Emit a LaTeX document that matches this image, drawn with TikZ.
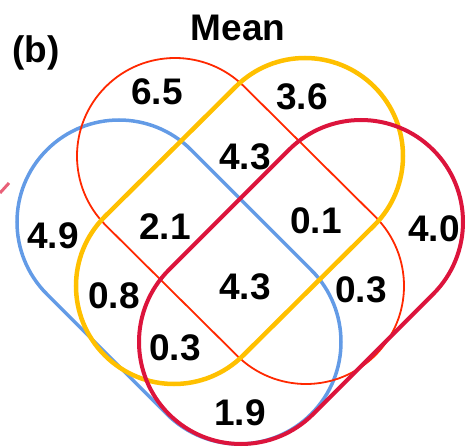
\documentclass[tikz,border=0pt]{standalone}
\usepackage{fontspec}
\setmainfont{Liberation Sans}
\usetikzlibrary{calc}
\definecolor{vblue}{RGB}{99,155,230}
\definecolor{vorange}{RGB}{255,40,0}
\definecolor{vyellow}{RGB}{255,192,0}
\definecolor{vred}{RGB}{220,20,60}
\definecolor{vpink}{RGB}{232,96,120}
\newcommand{\mystadium}[5]{%
  \draw[#1] ($#2+(#4:#5pt)$) -- ($#3+(#4:#5pt)$)
    arc[start angle=#4, delta angle=-180, radius=#5pt]
    -- ($#2+(#4+180:#5pt)$)
    arc[start angle=#4+180, delta angle=-180, radius=#5pt] -- cycle;}
\tikzset{
  val/.style={font=\fontsize{37}{40}\selectfont\bfseries, inner sep=0pt},
  setblue/.style={draw=vblue, line width=3.5pt},
  setorange/.style={draw=vorange, line width=1.8pt},
  setyellow/.style={draw=vyellow, line width=4.5pt},
  setred/.style={draw=vred, line width=4pt},
}
\begin{document}
\begin{tikzpicture}[x=1pt,y=1pt]
\useasboundingbox (0,0) rectangle (469,-447);
% sets
\mystadium{setblue}{(119,-222)}{(239,-342)}{45}{102}
\mystadium{setorange}{(175,-156)}{(306,-286)}{45}{98}
\mystadium{setyellow}{(174,-286)}{(305,-156)}{135}{98}
\mystadium{setred}{(241,-342)}{(361,-222)}{135}{102}
% stray fragment
\coordinate (p1) at (0,-193);
\coordinate (p2) at (9,-183);
\draw[vpink, line width=3pt] (p1) -- (p2);
% titles
\node[val] (title) at (238,-28) {Mean};
\node[val] (lab) at (36,-53) {(b)};
% values
\node[val] (v1) at (157,-92) {6.5};
\node[val] (v2) at (302,-97) {3.6};
\node[val] (v3) at (245,-157) {4.3};
\node[val] (v4) at (165,-227) {2.1};
\node[val] (v5) at (316,-221) {0.1};
\node[val] (v6) at (53,-236) {4.9};
\node[val] (v7) at (434,-229) {4.0};
\node[val] (v8) at (114,-296) {0.8};
\node[val] (v9) at (245,-287) {4.3};
\node[val] (v10) at (361,-290) {0.3};
\node[val] (v11) at (175,-348) {0.3};
\node[val] (v12) at (240,-413) {1.9};
\end{tikzpicture}
\end{document}
